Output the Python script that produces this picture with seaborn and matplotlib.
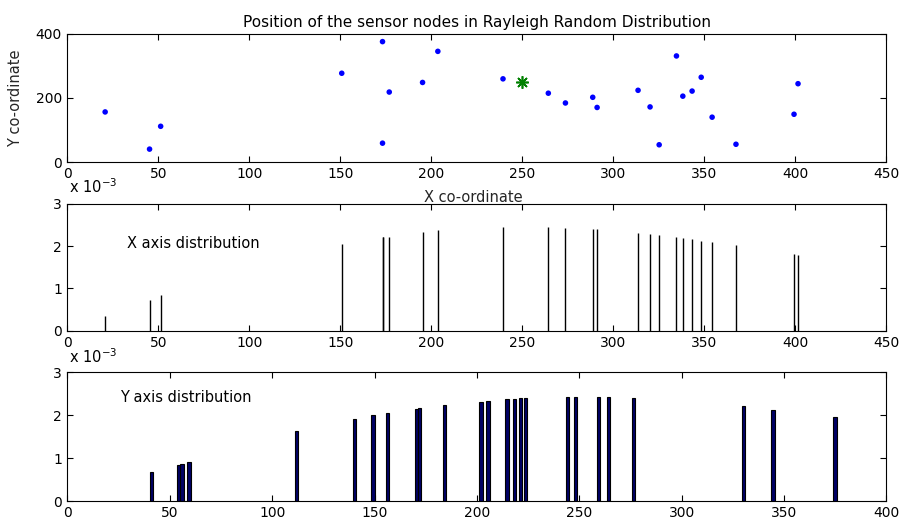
import numpy as np
import pandas as pd
import seaborn as sns
import matplotlib
matplotlib.use("Agg")
import matplotlib.pyplot as plt
from matplotlib.ticker import FuncFormatter

# ---------------- data ----------------
node_x = [20.7, 45.1, 51.2, 150.7, 173.1, 173.1, 176.8, 195.1, 203.5, 239.3,
          264.2, 273.6, 288.6, 291.0, 313.5, 320.1, 325.1, 334.6, 338.1, 343.2,
          348.2, 354.2, 367.3, 399.2, 401.4]
node_y = [156.4, 40.9, 111.8, 276.6, 374.8, 59.4, 218.2, 248.0, 344.6, 259.2,
          214.6, 184.2, 201.9, 170.3, 223.6, 172.0, 54.4, 330.3, 205.4, 221.2,
          264.1, 140.1, 56.0, 149.2, 244.1]
# Rayleigh pdf values (x 10^-3)
x_pdf = [0.354, 0.73, 0.84, 2.045, 2.21, 2.21, 2.23, 2.34, 2.375, 2.445,
         2.45, 2.43, 2.40, 2.40, 2.32, 2.30, 2.265, 2.21, 2.19, 2.16,
         2.13, 2.10, 2.02, 1.81, 1.785]
y_pdf = [2.05, 0.67, 1.64, 2.39, 1.95, 0.92, 2.37, 2.42, 2.13, 2.42,
         2.37, 2.24, 2.31, 2.15, 2.39, 2.16, 0.85, 2.21, 2.34, 2.39,
         2.42, 1.92, 0.87, 2.00, 2.42]
sink_x = [250]
sink_y = [250]

x_ticks_top = [0, 50, 100, 150, 200, 250, 300, 350, 400, 450]
y_ticks_top = [0, 200, 400]
x_ticks_bot = [0, 50, 100, 150, 200, 250, 300, 350, 400]
pdf_ticks = [0, 1, 2, 3]

title = "Position of the sensor nodes in Rayleigh Random Distribution"

# ---------------- style ----------------
sns.set_theme(style="white")
plt.rcParams["font.family"] = ["DejaVu Sans"]
plt.rcParams.update({
    "mathtext.fontset": "dejavusans",
    "xtick.direction": "in",
    "ytick.direction": "in",
    "xtick.top": True,
    "ytick.right": True,
    "xtick.major.size": 4,
    "ytick.major.size": 4,
    "xtick.major.width": 0.8,
    "ytick.major.width": 0.8,
    "xtick.major.pad": 3.5,
    "ytick.major.pad": 4,
    "xtick.labelsize": 10,
    "ytick.labelsize": 10,
    "xtick.color": "black",
    "ytick.color": "black",
    "axes.edgecolor": "black",
    "axes.linewidth": 0.8,
    "text.color": "black",
})

fig = plt.figure(figsize=(9.02, 5.22), dpi=100)
W = 0.908
ax1 = fig.add_axes([0.0748, 0.6891, W, 0.2467])
ax2 = fig.add_axes([0.0748, 0.3665, W, 0.2427])
ax3 = fig.add_axes([0.0748, 0.0402, W, 0.2466])

for ax in (ax1, ax2, ax3):
    for s in ax.spines.values():
        s.set_visible(True)
        s.set_color("black")
        s.set_linewidth(0.8)
    ax.tick_params(which="both", direction="in", top=True, right=True,
                   bottom=True, left=True)

# ---------------- top: node positions ----------------
df_nodes = pd.DataFrame({"x": node_x, "y": node_y})
sns.scatterplot(data=df_nodes, x="x", y="y", ax=ax1, color="#0000FF",
                s=16, linewidth=0, edgecolor="none", legend=False)
ax1.plot(sink_x, sink_y, linestyle="none", marker=(8, 2, 0), markersize=9,
         markeredgecolor="#008000", markeredgewidth=1.2)
ax1.set_xlim(0, 450)
ax1.set_ylim(0, 400)
ax1.set_xticks(x_ticks_top)
ax1.set_yticks(y_ticks_top)
ax1.set_title(title, fontsize=11, pad=5)
ax1.set_xlabel("X co-ordinate", fontsize=10.5)
ax1.set_ylabel("Y co-ordinate", fontsize=10.5)
ax1.xaxis.set_label_coords(0.496, -0.215)
ax1.yaxis.set_label_coords(-0.054, 0.5)

fmt = FuncFormatter(lambda v, p: f"{v * 1e3:g}")

# ---------------- middle: X axis distribution ----------------
ax2.vlines(node_x, 0, np.array(x_pdf) * 1e-3, color="black", linewidth=1.0)
ax2.set_xlim(0, 450)
ax2.set_ylim(0, 3e-3)
ax2.set_xticks(x_ticks_top)
ax2.set_yticks(np.array(pdf_ticks) * 1e-3)
ax2.yaxis.set_major_formatter(fmt)
ax2.set_xlabel("")
ax2.set_ylabel("")
ax2.text(32.7, 2.07e-3, "X axis distribution", va="center", ha="left", fontsize=10.5)
ax2.text(0.002, 1.085, r"x 10$^{\mathrm{-3}}$", transform=ax2.transAxes,
         va="baseline", ha="left", fontsize=10.5)

# ---------------- bottom: Y axis distribution ----------------
ax3.bar(node_y, np.array(y_pdf) * 1e-3, width=1.6, color="#000066",
        edgecolor="black", linewidth=0.8)
ax3.set_xlim(0, 400)
ax3.set_ylim(0, 3e-3)
ax3.set_xticks(x_ticks_bot)
ax3.set_yticks(np.array(pdf_ticks) * 1e-3)
ax3.yaxis.set_major_formatter(fmt)
ax3.text(25.7, 2.41e-3, "Y axis distribution", va="center", ha="left", fontsize=10.5)
ax3.text(0.002, 1.072, r"x 10$^{\mathrm{-3}}$", transform=ax3.transAxes,
         va="baseline", ha="left", fontsize=10.5)

fig.savefig("out.png", dpi=100)
